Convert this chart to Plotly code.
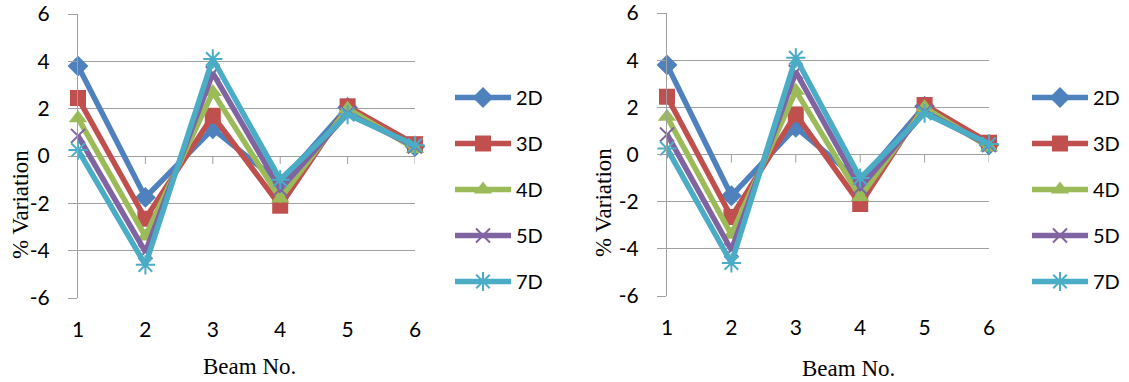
import plotly.graph_objects as go

beams = [1, 2, 3, 4, 5, 6]
series_names = ["2D", "3D", "4D", "5D", "7D"]
v2d = [3.8, -1.75, 1.15, -1.15, 2.05, 0.4]
v3d = [2.45, -2.65, 1.7, -2.1, 2.1, 0.5]
v4d = [1.6, -3.4, 2.7, -1.8, 2.0, 0.3]
v5d = [0.85, -4.05, 3.5, -1.4, 1.8, 0.4]
v7d = [0.25, -4.6, 4.1, -1.0, 1.75, 0.45]
y_ticks = [-6, -4, -2, 0, 2, 4, 6]
y_tick_labels = ["-6", "-4", "-2", "0", "2", "4", "6"]

values = [v2d, v3d, v4d, v5d, v7d]
colors = ["#4F81BD", "#C0504D", "#9BBB59", "#8064A2", "#4BACC6"]
symbols = ["diamond", "square", "triangle-up", "x-thin", "asterisk"]
sizes = [16, 16, 16, 14, 16]

fig = go.Figure()

panels = [
    dict(xa="x", ya="y", leg="legend", xdom=[78 / 1129, 415 / 1129], ydom=[1 - 298 / 382, 1 - 14 / 382]),
    dict(xa="x2", ya="y2", leg="legend2", xdom=[667 / 1129, 989 / 1129], ydom=[1 - 296 / 382, 1 - 13 / 382]),
]

for p in panels:
    for name, vals, c, s, sz in zip(series_names, values, colors, symbols, sizes):
        mk = dict(symbol=s, size=sz, color=c, line=dict(width=2 if s in ("x-thin", "asterisk") else 0, color=c))
        fig.add_trace(go.Scatter(
            x=beams, y=vals, name=name, mode="lines+markers",
            line=dict(color=c, width=5.5), marker=mk,
            xaxis=p["xa"], yaxis=p["ya"], legend=p["leg"], legendgroup=p["leg"] + name,
            cliponaxis=False,
        ))

grid = "#A0A0A0"
tickfont = dict(family="Lato, Liberation Sans, sans-serif", size=21, color="#000000")
for i, p in enumerate(panels):
    sx = "" if i == 0 else "2"
    fig.update_layout(**{
        "xaxis" + sx: dict(
            domain=p["xdom"], anchor="y" + sx, range=[1, 6], tickvals=beams,
            showgrid=False, zeroline=False, showline=False, automargin=False,
            ticks="outside", ticklen=0, tickcolor="rgba(0,0,0,0)",
            ticklabelstandoff=13, tickfont=tickfont, ticklabeloverflow="allow",
        ),
        "yaxis" + sx: dict(
            domain=p["ydom"], anchor="x" + sx, range=[-6, 6], tickvals=y_ticks,
            ticktext=y_tick_labels, automargin=False, ticklabeloverflow="allow",
            showgrid=True, gridcolor=grid, gridwidth=1, zeroline=False,
            showline=True, linecolor=grid, linewidth=1,
            ticks="outside", ticklen=9, tickcolor=grid, tickwidth=1,
            ticklabelstandoff=14, tickfont=tickfont,
        ),
    })
    # category tick marks below the zero line
    for b in beams[1:]:
        fig.add_shape(type="line", xref="x" + sx, yref="y" + sx, x0=b, x1=b,
                      ysizemode="pixel", yanchor=0, y0=0, y1=-8,
                      line=dict(color=grid, width=1))

serif = dict(family="Liberation Serif, Times New Roman, serif", size=23, color="#000000")
annos = [
    dict(text="Beam No.", x=249 / 1129, y=1 - 366 / 382),
    dict(text="Beam No.", x=848 / 1129, y=1 - 368 / 382),
    dict(text="% Variation", x=20 / 1129, y=1 - 205 / 382, textangle=-90),
    dict(text="% Variation", x=603 / 1129, y=1 - 203 / 382, textangle=-90),
]
for a in annos:
    fig.add_annotation(xref="paper", yref="paper", showarrow=False, font=serif,
                       xanchor="center", yanchor="middle", **a)

legfont = dict(family="Lato, Liberation Sans, sans-serif", size=20, color="#000000")
fig.update_layout(
    width=1129, height=382,
    margin=dict(l=0, r=0, t=0, b=0, autoexpand=False),
    paper_bgcolor="white", plot_bgcolor="white",
    legend=dict(x=450 / 1129, y=1 - 78 / 382, xanchor="left", yanchor="top",
                font=legfont, itemwidth=56, tracegroupgap=17, bgcolor="rgba(0,0,0,0)"),
    legend2=dict(x=1027 / 1129, y=1 - 78 / 382, xanchor="left", yanchor="top",
                 font=legfont, itemwidth=56, tracegroupgap=17, bgcolor="rgba(0,0,0,0)"),
    showlegend=True,
)

fig.write_html("out.html")
